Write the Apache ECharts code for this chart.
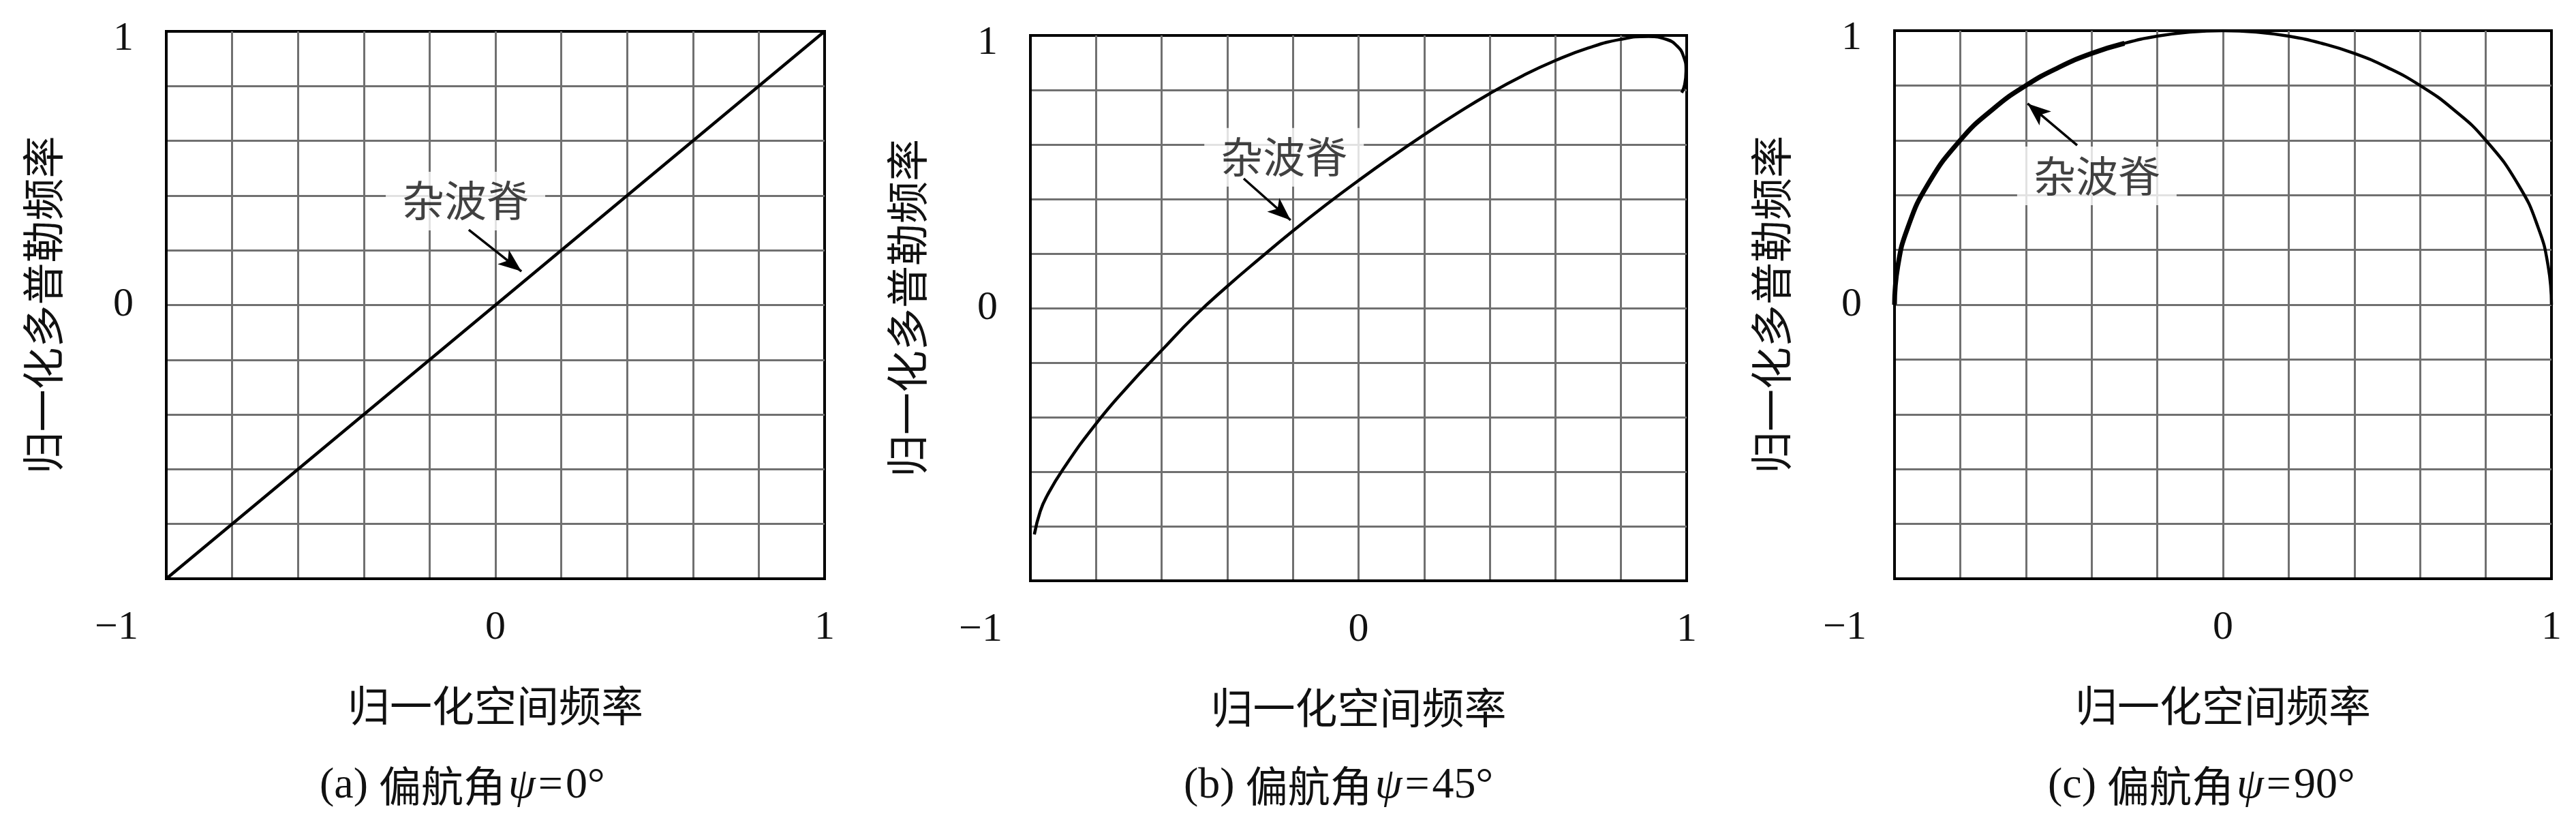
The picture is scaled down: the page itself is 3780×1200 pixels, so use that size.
<!DOCTYPE html>
<html>
<head>
<meta charset="utf-8">
<script src="https://cdn.jsdelivr.net/npm/echarts@6/dist/echarts.min.js"></script>
<style>
  html, body { margin: 0; padding: 0; background: #fff; }
  #main { width: 3780px; height: 1200px; }
</style>
</head>
<body>
<div id="main"></div>
<script>
// tick labels
var xTickValues = [-1, 0, 1];
var xTickLabels = ['\u22121', '0', '1'];
var yTickValues = [0, 1];
var yTickLabels = ['0', '1'];
var xName = '归一化空间频率';
var yName = '归一化多普勒频率';
var ridgeText = '杂波脊';
var panelTags = ['(a)', '(b)', '(c)'];
var yawAngles = ['0', '45', '90'];

// clutter ridge
var ridgeAx = [-1, -0.5, 0, 0.5, 1];
var ridgeAy = [-1, -0.5, 0, 0.5, 1];

var ridgeBx = [-0.988, -0.97, -0.95, -0.9, -0.8, -0.7, -0.6, -0.5, -0.4, -0.3, -0.2, -0.1, 0, 0.1, 0.2, 0.3, 0.4, 0.5, 0.6, 0.7, 0.8, 0.884, 0.94, 0.97, 0.99, 0.998, 0.994, 0.985];
var ridgeBy = [-0.83, -0.745, -0.69, -0.59, -0.424, -0.283, -0.155, -0.03, 0.08, 0.183, 0.283, 0.378, 0.468, 0.554, 0.636, 0.714, 0.787, 0.852, 0.908, 0.954, 0.986, 0.996, 0.985, 0.962, 0.925, 0.87, 0.82, 0.79];

var ridgeCx = [-1, -0.99, -0.96, -0.9, -0.8, -0.7, -0.6, -0.5, -0.4, -0.3, -0.2, -0.1, 0, 0.1, 0.2, 0.3, 0.4, 0.5, 0.6, 0.7, 0.8, 0.9, 0.96, 0.99, 1];
var ridgeCy = [0, 0.14, 0.28, 0.436, 0.6, 0.714, 0.8, 0.866, 0.917, 0.954, 0.98, 0.995, 1, 0.995, 0.98, 0.954, 0.917, 0.866, 0.8, 0.714, 0.6, 0.436, 0.28, 0.14, 0];

// annotation spots (data coords)
var labelAt = [[-0.091, 0.38], [-0.227, 0.553], [-0.384, 0.47]];
var arrowFrom = [[-0.081, 0.275], [-0.35, 0.475], [-0.444, 0.582]];
var arrowTo = [[0.079, 0.123], [-0.207, 0.3225], [-0.595, 0.734]];

var grids = [
	{ left: 244, top: 46, width: 966, height: 803 },
	{ left: 1512, top: 52, width: 963, height: 800 },
	{ left: 2780, top: 45, width: 964, height: 804 }
];

var serif = '"Liberation Serif", "DejaVu Serif", serif';
var cjk = '"Noto Sans CJK SC", sans-serif';

function pairs(xs, ys) {
	var out = [];
	for (var i = 0; i < xs.length; i++) out.push([xs[i], ys[i]]);
	return out;
}
function pick(v, vals, labels) {
	for (var i = 0; i < vals.length; i++) {
		if (Math.abs(v - vals[i]) < 1e-6) return labels[i];
	}
	return '';
}

var ridges = [pairs(ridgeAx, ridgeAy), pairs(ridgeBx, ridgeBy), pairs(ridgeCx, ridgeCy)];

var option = {
	backgroundColor: '#fff',
	animation: false,
	grid: [],
	xAxis: [],
	yAxis: [],
	series: [],
	graphic: []
};

for (var k = 0; k < 3; k++) {
	option.grid.push({
		left: grids[k].left, top: grids[k].top,
		width: grids[k].width, height: grids[k].height,
		show: true, borderColor: '#000', borderWidth: 4, backgroundColor: '#fff'
	});
	option.xAxis.push({
		type: 'value', gridIndex: k, min: -1, max: 1, interval: 0.2,
		name: xName, nameLocation: 'middle', nameGap: 155,
		nameTextStyle: { fontFamily: cjk, fontSize: 62, color: '#111' },
		axisLine: { show: true, onZero: false, lineStyle: { color: '#000', width: 4 } },
		axisTick: { show: false },
		splitLine: { show: true, showMinLine: false, showMaxLine: false, lineStyle: { color: '#707070', width: 3 } },
		axisLabel: {
			margin: 42, fontFamily: serif, fontSize: 60, color: '#111',
			formatter: function (v) {
				var s = pick(v, xTickValues, xTickLabels);
				if (Math.abs(v + 1) < 1e-6) return '{m|' + s + '}';
				return s;
			},
			rich: { m: { fontFamily: serif, fontSize: 60, color: '#111', padding: [0, 146, 0, 0] } }
		}
	});
	option.yAxis.push({
		type: 'value', gridIndex: k, min: -1, max: 1, interval: 0.2,
		name: yName, nameLocation: 'middle', nameGap: 150, nameRotate: 90,
		nameTextStyle: { fontFamily: cjk, fontSize: 62, color: '#111' },
		axisLine: { show: true, onZero: false, lineStyle: { color: '#000', width: 4 } },
		axisTick: { show: false },
		splitLine: { show: true, showMinLine: false, showMaxLine: false, lineStyle: { color: '#707070', width: 3 } },
		axisLabel: {
			margin: 48, fontFamily: serif, fontSize: 60, color: '#111',
			formatter: function (v) {
				var s = pick(v, yTickValues, yTickLabels);
				if (Math.abs(v - 1) < 1e-6) return '{top|' + s + '}';
				return s;
			},
			rich: { top: { fontFamily: serif, fontSize: 60, color: '#111', padding: [22, 0, 0, 0] } }
		}
	});

	// label box + arrow
	option.series.push({
		type: 'scatter', xAxisIndex: k, yAxisIndex: k, z: 3,
		symbolSize: 0, silent: true,
		data: [labelAt[k]],
		label: {
			show: true, position: 'inside', formatter: ridgeText,
			fontFamily: cjk, fontSize: 62, color: '#111',
			backgroundColor: '#fff', padding: [12, 24, 12, 24]
		},
		markLine: {
			silent: true, symbol: ['none', 'arrow'], symbolSize: [20, 34],
			label: { show: false },
			lineStyle: { color: '#000', width: 3.5, type: 'solid' },
			data: [[{ coord: arrowFrom[k] }, { coord: arrowTo[k] }]]
		}
	});

	option.series.push({
		type: 'line', xAxisIndex: k, yAxisIndex: k, z: 5,
		data: ridges[k], showSymbol: false, smooth: k === 0 ? false : 0.5,
		lineStyle: { color: '#000', width: 4.5 }
	});

	option.graphic.push({
		type: 'text',
		x: grids[k].left + 225, y: 1153,
		style: {
			text: '{t|' + panelTags[k] + '}{c|偏航角}{p|ψ}{e|=}{t|' + yawAngles[k] + '°}',
			verticalAlign: 'middle', align: 'left',
			rich: {
				t: { fontFamily: serif, fontSize: 64, fill: '#111' },
				c: { fontFamily: cjk, fontSize: 62, fill: '#111', padding: [0, 0, 0, 16] },
				p: { fontFamily: serif, fontSize: 64, fontStyle: 'italic', fill: '#111', padding: [0, 2, 0, 4] },
				e: { fontFamily: serif, fontSize: 64, fill: '#111', padding: [0, 4, 0, 2] }
			}
		}
	});
}

// thicker left branch in (c)
option.series.push({
	type: 'line', xAxisIndex: 2, yAxisIndex: 2, z: 6,
	data: ridges[2].slice(0, 10), showSymbol: false, smooth: 0.5,
	lineStyle: { color: '#000', width: 7 }
});

var chart = echarts.init(document.getElementById('main'), null, { renderer: 'canvas' });
chart.setOption(option);
</script>
</body>
</html>
